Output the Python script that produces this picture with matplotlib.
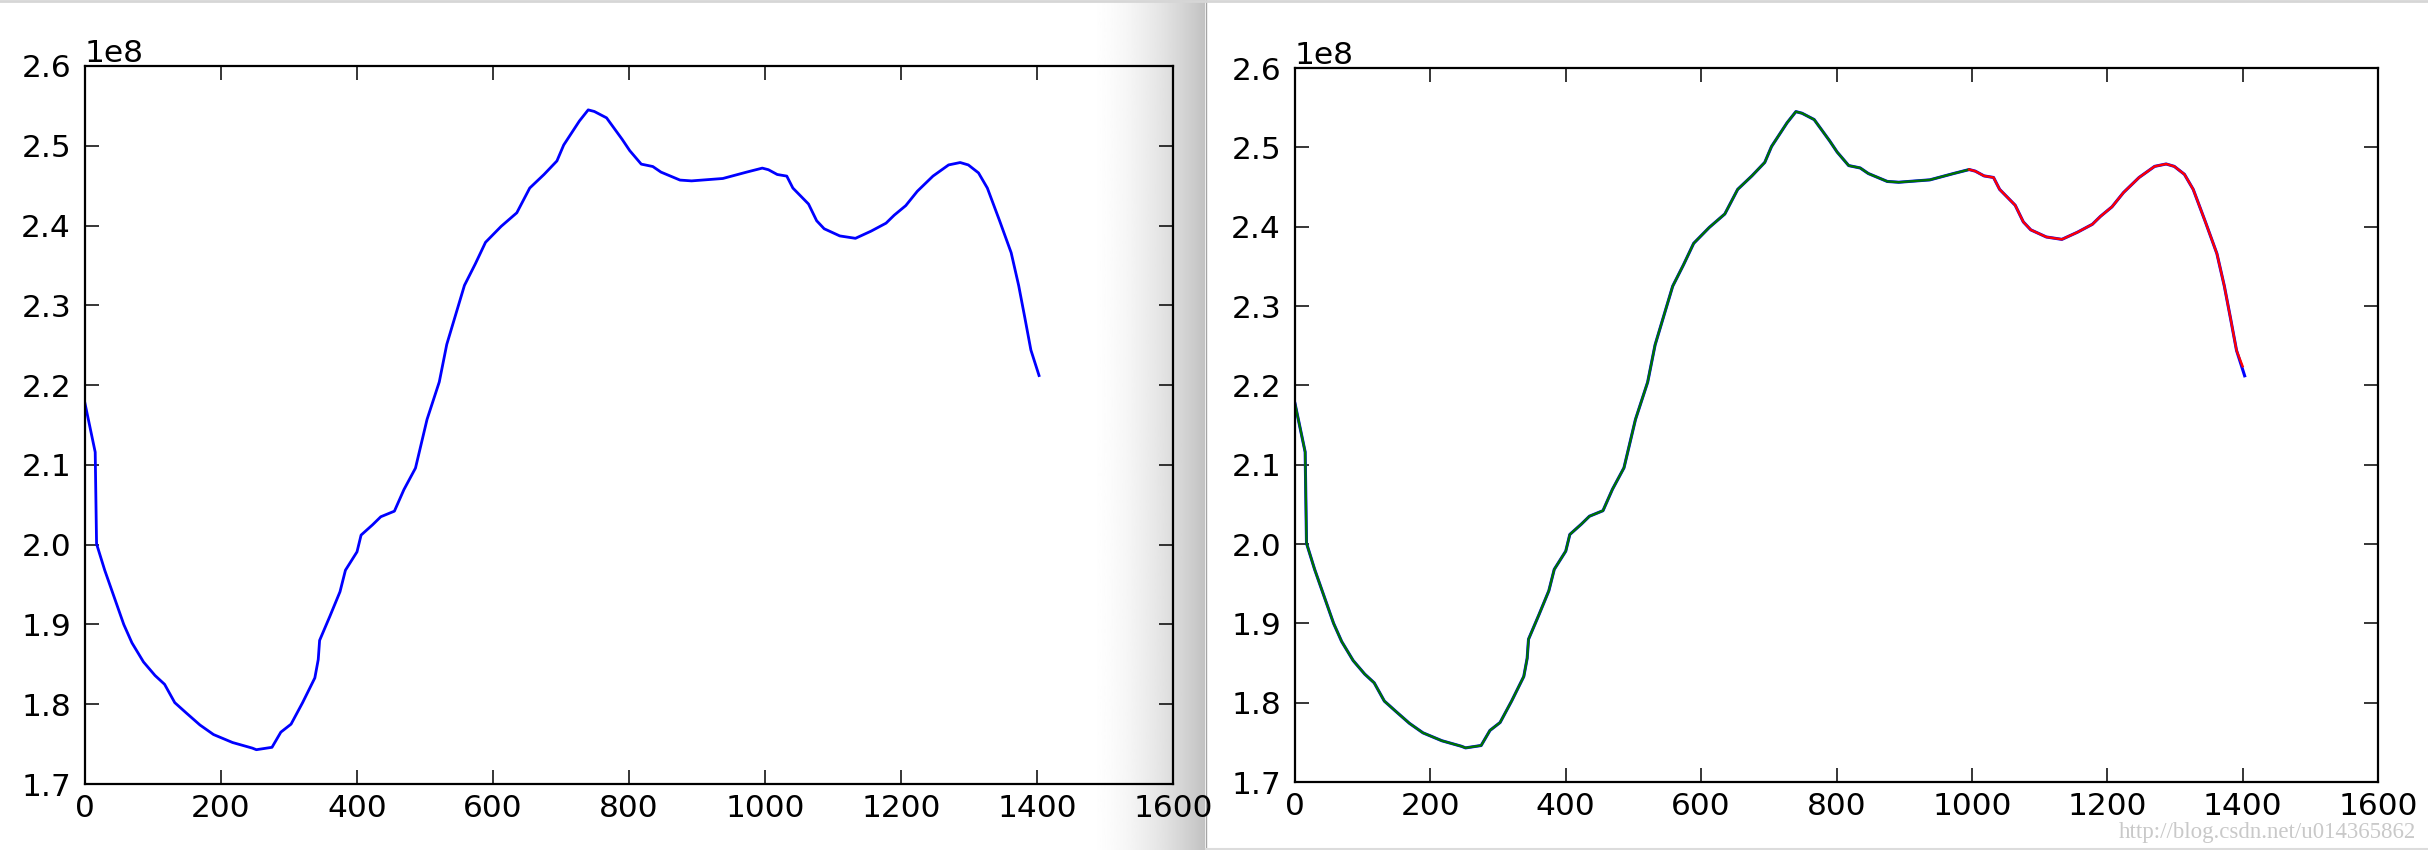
import numpy as np
import matplotlib
matplotlib.use("Agg")
import matplotlib.pyplot as plt

# ---- data (values in units of 1e8) ----
x_vals = [0, 15, 17, 29, 43, 57, 69, 86, 103, 117, 132, 149, 169, 189, 217, 246, 252,
          275, 288, 303, 320, 338, 343, 345, 360, 375, 383, 400, 406, 423, 435, 455,
          469, 486, 503, 521, 532, 558, 574, 589, 612, 635, 654, 675, 694, 704, 727,
          740, 749, 767, 790, 801, 818, 835, 847, 875, 892, 938, 973, 996, 1005, 1018,
          1032, 1041, 1064, 1076, 1087, 1110, 1133, 1156, 1178, 1190, 1207, 1224, 1247,
          1270, 1287, 1299, 1314, 1327, 1345, 1362, 1373, 1382, 1391, 1403]
y_vals = [2.177, 2.116, 2.001, 1.968, 1.934, 1.900, 1.877, 1.853, 1.836, 1.825, 1.802,
          1.789, 1.774, 1.762, 1.752, 1.745, 1.743, 1.746, 1.765, 1.775, 1.802, 1.833,
          1.856, 1.880, 1.910, 1.941, 1.968, 1.991, 2.012, 2.025, 2.035, 2.042, 2.069,
          2.096, 2.157, 2.204, 2.251, 2.325, 2.352, 2.379, 2.399, 2.416, 2.447, 2.464,
          2.481, 2.501, 2.531, 2.545, 2.543, 2.535, 2.508, 2.494, 2.477, 2.474, 2.467,
          2.457, 2.456, 2.459, 2.467, 2.472, 2.470, 2.464, 2.462, 2.447, 2.427, 2.406,
          2.396, 2.387, 2.384, 2.393, 2.403, 2.413, 2.425, 2.443, 2.462, 2.476, 2.479,
          2.476, 2.466, 2.447, 2.406, 2.366, 2.325, 2.285, 2.244, 2.212]
split_x = 996          # train / test boundary of predictions
test_end_x = 1400
test_end_y = 2.224

xticks = [0, 200, 400, 600, 800, 1000, 1200, 1400, 1600]
yticks = [1.7, 1.8, 1.9, 2.0, 2.1, 2.2, 2.3, 2.4, 2.5, 2.6]

x = np.array(x_vals, dtype=float)
y = np.array(y_vals) * 1e8
train_mask = x <= split_x
test_mask = x >= split_x
test_x = np.append(x[test_mask][:-1], test_end_x)
test_y = np.append(y[test_mask][:-1], test_end_y * 1e8)

W, H = 2428, 850
fig = plt.figure(figsize=(W / 100, H / 100), dpi=100, facecolor="white")

# ---- screenshot decoration background ----
bg = fig.add_axes([0, 0, 1, 1], zorder=-10)
bg.set_xlim(0, W)
bg.set_ylim(H, 0)
bg.axis("off")
t = np.linspace(0, 1, 200)
grad = (1 - 0.24 * t ** 1.8)[None, :]
bg.imshow(grad, cmap="gray", vmin=0, vmax=1, extent=[1085, 1205, H, 0], aspect="auto")
bg.plot([1205.5, 1205.5], [0, H], color="#a5a5a5", lw=1.0)
bg.plot([0, W], [1, 1], color="#d6d6d6", lw=2.0)
bg.plot([1206, W], [848.5, 848.5], color="#dcdcdc", lw=1.5)
bg.text(2416, 838, "http://blog.csdn.net/u014365862", ha="right", va="baseline",
        fontsize=16.5, family="Liberation Serif", color="#c9c9c9")

plt.rcParams["font.family"] = ["DejaVu Sans"]


def style(ax):
    ax.set_facecolor("none")
    ax.set_xlim(0, 1600)
    ax.set_ylim(1.7e8, 2.6e8)
    ax.set_xticks(xticks)
    ax.set_yticks([v * 1e8 for v in yticks])
    ax.tick_params(direction="in", length=10, width=1.1, top=True, right=True,
                   labelsize=22.5, colors="black")
    ax.tick_params(axis="y", pad=10)
    ax.tick_params(axis="x", pad=7)
    for s in ax.spines.values():
        s.set_linewidth(1.6)
        s.set_color("black")
    ax.yaxis.get_offset_text().set_fontsize(22.5)


ax1 = fig.add_axes([85 / W, 66 / H, 1088 / W, 718 / H])
style(ax1)
ax1.plot(x, y, color=(0, 0, 1), lw=2.0)

ax2 = fig.add_axes([1295 / W, 68 / H, 1083 / W, 714 / H])
style(ax2)
ax2.plot(x, y, color=(0, 0, 1), lw=2.2)
ax2.plot(x[train_mask], y[train_mask], color=(0, 0.45, 0), lw=1.7)
ax2.plot(test_x, test_y, color=(1, 0, 0), lw=1.7)

fig.savefig("out.png", dpi=100, facecolor="white")
